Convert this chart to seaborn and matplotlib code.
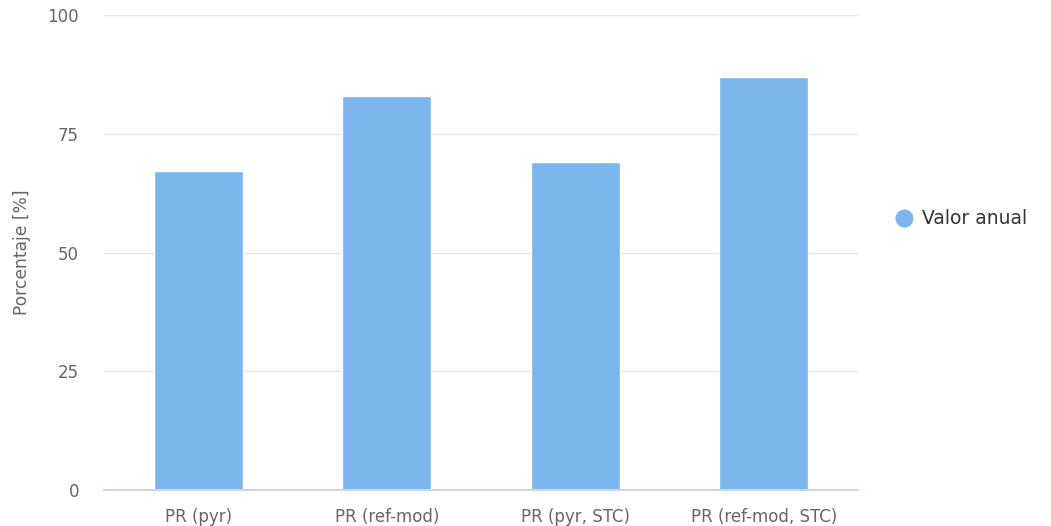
import matplotlib
matplotlib.use("Agg")
import matplotlib.pyplot as plt
from matplotlib.lines import Line2D
import seaborn as sns
import pandas as pd

# Performance ratio figures (annual values, %)
categories = ["PR (pyr)", "PR (ref-mod)", "PR (pyr, STC)", "PR (ref-mod, STC)"]
values = [67.1, 82.9, 69.1, 86.9]
y_ticks = [0, 25, 50, 75, 100]
series_name = "Valor anual"
y_title = "Porcentaje [%]"

bar_color = "#7cb5ec"
grid_color = "#e6e6e6"
axis_color = "#ccd6eb"
label_color = "#666666"
legend_color = "#333333"

sns.set_theme(style="white")
plt.rcParams["font.family"] = ["DejaVu Sans"]

df = pd.DataFrame({"categoria": categories, "valor": values})

fig = plt.figure(figsize=(10.51, 5.26), dpi=100)
ax = fig.add_axes([104 / 1051, 1 - 490 / 526, (858 - 104) / 1051, (490 - 15) / 526])

sns.barplot(data=df, x="categoria", y="valor", color=bar_color, saturation=1,
            width=0.472, edgecolor="white", linewidth=1, ax=ax, zorder=3)

ax.set_xlim(-0.5, len(categories) - 0.5)
ax.set_ylim(0, 100)
ax.set_yticks(y_ticks)
ax.set_yticklabels([str(t) for t in y_ticks])
ax.yaxis.grid(True, color=grid_color, linewidth=1.0, zorder=0)
ax.set_axisbelow(True)

for side in ("top", "right", "left"):
    ax.spines[side].set_visible(False)
ax.spines["bottom"].set_color(axis_color)
ax.spines["bottom"].set_linewidth(1.5)
ax.spines["bottom"].set_zorder(4)

ax.tick_params(axis="both", length=0, labelsize=12, labelcolor=label_color)
ax.tick_params(axis="y", pad=18)
ax.tick_params(axis="x", pad=13)
ax.set_xlabel("")
ax.set_ylabel(y_title, fontsize=12.3, color=label_color, labelpad=12)

handle = Line2D([], [], marker="o", linestyle="none", markersize=12,
                markerfacecolor=bar_color, markeredgecolor=bar_color)
leg = fig.legend([handle], [series_name], loc="center left",
                 bbox_to_anchor=(876 / 1051, 1 - 219 / 526), frameon=False,
                 fontsize=13.5, handletextpad=0.35, handlelength=1.2)
for t in leg.get_texts():
    t.set_color(legend_color)

fig.savefig("out.png", dpi=100)
